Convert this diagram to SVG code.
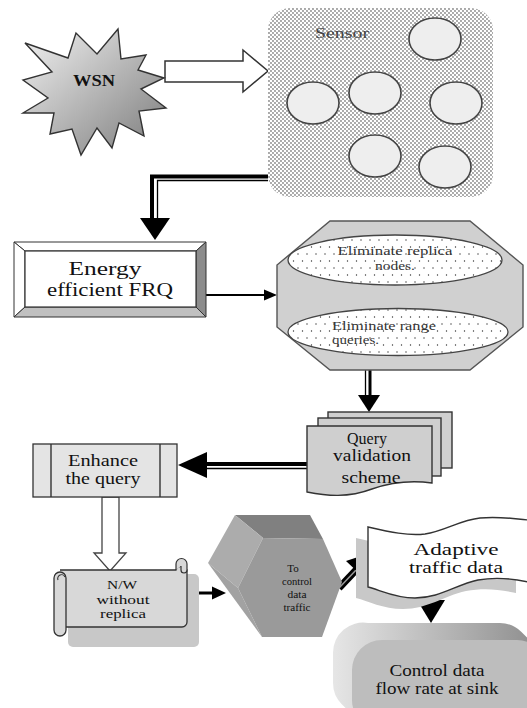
<svg xmlns="http://www.w3.org/2000/svg" width="527" height="708" viewBox="0 0 527 708" font-family="'Liberation Serif', 'Times New Roman', serif">
<style>
.t{font-family:"Liberation Serif","Times New Roman",serif;fill:#111;text-anchor:middle}
.ts{font-family:"Liberation Serif","Times New Roman",serif;fill:#333;text-anchor:middle}
.ln{stroke:#333;stroke-width:1.4}
.blk{fill:#000;stroke:none}
</style>
<defs>
<pattern id="dense" width="4" height="4" patternUnits="userSpaceOnUse">
<rect width="4" height="4" fill="#fff"/>
<circle cx="1" cy="1" r="0.65" fill="#111"/>
<circle cx="3" cy="3" r="0.65" fill="#111"/>
</pattern>
<pattern id="sparse" width="9" height="14" patternUnits="userSpaceOnUse">
<rect width="9" height="14" fill="#fff"/>
<circle cx="1" cy="2" r="0.7" fill="#333"/>
<circle cx="5.5" cy="9" r="0.7" fill="#333"/>
</pattern>
<linearGradient id="starG" x1="0" y1="0" x2="1" y2="1">
<stop offset="0" stop-color="#f2f2f2"/>
<stop offset="1" stop-color="#7a7a7a"/>
</linearGradient>
<linearGradient id="pillG" x1="0" y1="0" x2="1" y2="0">
<stop offset="0" stop-color="#e6e6e6"/>
<stop offset="1" stop-color="#8a8a8a"/>
</linearGradient>
<clipPath id="qclip">
<path d="M307,426 H432 V483 C410,480 392,482 372,489 C348,498 327,496 307,492 Z"/>
</clipPath>
</defs>

<g id="connectors">
<path d="M165,61 H243 V50 L268,71 L243,92 V82 H165 Z" fill="#fff" stroke="#333" stroke-width="1.5"/>
<path d="M268,176.5 H152 V220" fill="none" stroke="#000" stroke-width="4"/>
<path d="M268,180.5 H157.5 V220" fill="none" stroke="#000" stroke-width="1.3"/>
<polygon class="blk" points="140,218 170,218 155,240"/>
<line x1="206" y1="295" x2="266" y2="295" stroke="#000" stroke-width="2"/>
<polygon class="blk" points="264,289.5 264,300.5 277,295"/>
<line x1="365.5" y1="370" x2="365.5" y2="397" stroke="#000" stroke-width="1.3"/>
<line x1="370" y1="370" x2="370" y2="397" stroke="#000" stroke-width="3"/>
<polygon class="blk" points="358,395 380,395 369,412"/>
<line x1="307" y1="464" x2="205" y2="464" stroke="#000" stroke-width="4"/>
<line x1="307" y1="468.5" x2="205" y2="468.5" stroke="#000" stroke-width="1.3"/>
<polygon class="blk" points="207,452 207,478 178,465"/>
<path d="M102,497 V553 H94 L110,571 L126,553 H119 V497 Z" fill="#fff" stroke="#444" stroke-width="1.3"/>
<line x1="187" y1="593" x2="214" y2="593" stroke="#000" stroke-width="3"/>
<polygon class="blk" points="212,586.5 212,599.5 226,593"/>
<line x1="339" y1="588" x2="357" y2="569" stroke="#000" stroke-width="7"/>
<line x1="339" y1="588" x2="357" y2="569" stroke="#999" stroke-width="1.5"/>
<polygon class="blk" points="370,553 363,577 346,561"/>
<rect x="426" y="586" width="10" height="16" fill="#000"/>
<line x1="431" y1="586" x2="431" y2="601" stroke="#999" stroke-width="1.5"/>
<polygon class="blk" points="417,600 445,600 431,623"/>
</g>

<g id="wsn">
<polygon points="25,43 68,58 76,33 97,54 118,29 121,59 146,55 138,70 164,78 141,89 166,108 139,111 144,136 119,123 112,148 97,128 81,155 72,129 50,134 54,113 23,113 48,98 23,80 52,72" fill="url(#starG)" stroke="#333" stroke-width="1.4"/>
<text class="t" x="94" y="86" font-size="16" font-weight="bold" textLength="42" lengthAdjust="spacingAndGlyphs">WSN</text>
</g>

<g id="sensor">
<rect x="268" y="8" width="225" height="189" rx="22" fill="url(#dense)"/>
<text class="t" x="342" y="38" font-size="14" style="fill:#444" textLength="54" lengthAdjust="spacingAndGlyphs">Sensor</text>
<g fill="#eeeeee" stroke="#444" stroke-width="1.6">
<ellipse cx="435" cy="39" rx="26" ry="21"/>
<ellipse cx="313" cy="103" rx="26" ry="21"/>
<ellipse cx="375" cy="93" rx="26" ry="21"/>
<ellipse cx="456" cy="103" rx="26" ry="21"/>
<ellipse cx="375" cy="156" rx="26" ry="21"/>
<ellipse cx="445" cy="167" rx="26" ry="21"/>
</g>
</g>

<g id="frq">
<polygon points="14,242 206,242 196,251 25,251" fill="#fff" stroke="#333" stroke-width="1"/>
<polygon points="14,242 25,251 25,307 14,317" fill="#fff" stroke="#333" stroke-width="1"/>
<polygon points="206,242 206,317 196,307 196,251" fill="#8c8c8c" stroke="#333" stroke-width="1"/>
<polygon points="14,317 206,317 196,307 25,307" fill="#c0c0c0" stroke="#333" stroke-width="1"/>
<rect x="25" y="251" width="171" height="56" fill="#fff" stroke="#333" stroke-width="1.2"/>
<text class="t" x="105" y="275" font-size="18" textLength="73" lengthAdjust="spacingAndGlyphs">Energy</text>
<text class="t" x="110" y="296" font-size="18" textLength="126" lengthAdjust="spacingAndGlyphs">efficient FRQ</text>
</g>

<g id="eliminate">
<polygon points="330,221 470,221 523,265 523,327 470,370 330,370 277,327 277,265" fill="#d0d0d0" stroke="#555" stroke-width="1.4"/>
<ellipse cx="395" cy="260" rx="107" ry="25" fill="url(#sparse)" stroke="#444" stroke-width="1.3"/>
<text class="ts" x="395" y="255" font-size="12.5" textLength="115" lengthAdjust="spacingAndGlyphs">Eliminate replica</text>
<text class="ts" x="395" y="270" font-size="12.5" textLength="40" lengthAdjust="spacingAndGlyphs">nodes.</text>
<ellipse cx="398" cy="332" rx="110" ry="23.5" fill="url(#sparse)" stroke="#444" stroke-width="1.3"/>
<text class="ts" x="332" y="330" font-size="12" style="text-anchor:start" textLength="104" lengthAdjust="spacingAndGlyphs">Eliminate range</text>
<text class="ts" x="332" y="344" font-size="12" style="text-anchor:start" textLength="47" lengthAdjust="spacingAndGlyphs">queries.</text>
</g>

<g id="query">
<rect x="328" y="412" width="124" height="56" fill="#cfcfcf" stroke="#333" stroke-width="1.4"/>
<rect x="318" y="418" width="123" height="58" fill="#cfcfcf" stroke="#333" stroke-width="1.4"/>
<path d="M307,426 H432 V483 C410,480 392,482 372,489 C348,498 327,496 307,492 Z" fill="#cfcfcf" stroke="#333" stroke-width="1.4"/>
<text class="t" x="367" y="444" font-size="16" textLength="40" lengthAdjust="spacingAndGlyphs">Query</text>
<text class="t" x="372" y="461" font-size="16" textLength="78" lengthAdjust="spacingAndGlyphs">validation</text>
<g clip-path="url(#qclip)">
<text class="t" x="371" y="483" font-size="16" textLength="59" lengthAdjust="spacingAndGlyphs">scheme</text>
</g>
</g>

<g id="enhance">
<rect x="33" y="444" width="144" height="53" fill="#e4e4e4" stroke="#333" stroke-width="1.3"/>
<line class="ln" x1="51" y1="444" x2="51" y2="497"/>
<line class="ln" x1="160" y1="444" x2="160" y2="497"/>
<text class="t" x="103" y="466" font-size="16" textLength="70" lengthAdjust="spacingAndGlyphs">Enhance</text>
<text class="t" x="103" y="484" font-size="16" textLength="75" lengthAdjust="spacingAndGlyphs">the query</text>
</g>

<g id="nw">
<rect x="68" y="574" width="131" height="73" rx="5" fill="#c8c8c8"/>
<path d="M62,570 H180 V627 H66 Z" fill="#d8d8d8"/>
<path d="M60,570 H176 A6,6 0 0 1 187,570 V622 A5,5 0 0 1 182,627 H66" fill="#d8d8d8" stroke="#333" stroke-width="1.3"/>
<path d="M176,570 V564 A5.5,5.5 0 0 1 187,564 V570 A3,3 0 0 1 181,570 V566" fill="#d8d8d8" stroke="#333" stroke-width="1.2"/>
<rect x="54" y="572" width="12" height="64" rx="6" fill="#d8d8d8" stroke="#333" stroke-width="1.3"/>
<path d="M58,580 A3.5,3.5 0 0 1 65,577" fill="none" stroke="#333" stroke-width="1.1"/>
<text class="t" x="122" y="589" font-size="13.5" textLength="30" lengthAdjust="spacingAndGlyphs">N/W</text>
<text class="t" x="123" y="604" font-size="13.5" textLength="53" lengthAdjust="spacingAndGlyphs">without</text>
<text class="t" x="123" y="618" font-size="13.5" textLength="46" lengthAdjust="spacingAndGlyphs">replica</text>
</g>

<g id="control-traffic">
<polygon points="235,515 310,515 323,539 263,538" fill="#808080"/>
<polygon points="235,515 263,538 238,588 208,563" fill="#acacac"/>
<polygon points="208,563 238,588 262,637" fill="#a2a2a2"/>
<polygon points="263,538 323,539 342,582 322,637 262,637 238,588" fill="#9a9a9a"/>
<text class="t" x="293" y="572" font-size="11">To</text>
<text class="t" x="297" y="585" font-size="11" textLength="30" lengthAdjust="spacingAndGlyphs">control</text>
<text class="t" x="297" y="598" font-size="11" textLength="19" lengthAdjust="spacingAndGlyphs">data</text>
<text class="t" x="297" y="611" font-size="11" textLength="27" lengthAdjust="spacingAndGlyphs">traffic</text>
</g>

<g id="adaptive">
<path transform="translate(-12,11)" d="M368,527 C390,532 408,536 425,534 C445,531 460,520 480,518 C500,516 515,519 528,520 L528,582 C510,578 495,577 478,580 C455,585 440,598 415,598 C395,598 380,590 368,587 Z" fill="#c8c8c8"/>
<path d="M368,527 C390,532 408,536 425,534 C445,531 460,520 480,518 C500,516 515,519 528,520 L528,582 C510,578 495,577 478,580 C455,585 440,598 415,598 C395,598 380,590 368,587 Z" fill="#fff" stroke="#333" stroke-width="1.4"/>
<text class="t" x="456" y="555" font-size="16.5" textLength="85" lengthAdjust="spacingAndGlyphs">Adaptive</text>
<text class="t" x="456" y="573" font-size="16.5" textLength="94" lengthAdjust="spacingAndGlyphs">traffic data</text>
</g>

<g id="control-flow">
<path d="M368,623 H500 A30,30 0 0 1 521.2,631.8 L538.2,648.8 A30,30 0 0 1 547,670 V700 A30,30 0 0 1 517,730 H380 A30,30 0 0 1 358.8,721.2 L341.8,704.2 A30,30 0 0 1 333,683 V653 A30,30 0 0 1 368,623 Z" fill="url(#pillG)"/>
<rect x="352" y="640" width="195" height="90" rx="30" fill="#bdbdbd"/>
<text class="t" x="437" y="676" font-size="16.5" textLength="95" lengthAdjust="spacingAndGlyphs">Control data</text>
<text class="t" x="437" y="694" font-size="16.5" textLength="123" lengthAdjust="spacingAndGlyphs">flow rate at sink</text>
</g>
</svg>
